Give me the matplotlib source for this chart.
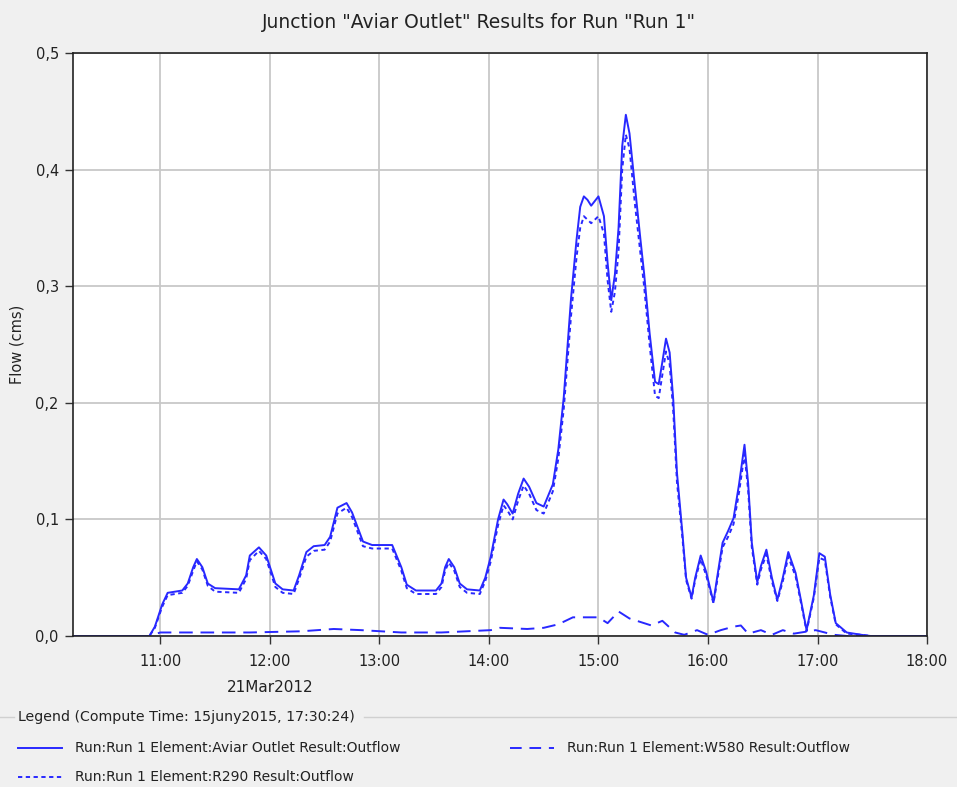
import matplotlib
matplotlib.use("Agg")
import matplotlib.pyplot as plt
import matplotlib.dates as mdates
from matplotlib.lines import Line2D
from matplotlib.ticker import FuncFormatter
import pandas as pd

DAY = "2012-03-21 "

# time steps shared by the Aviar Outlet and R290 series
flow_times = ["10:12", "10:54", "10:57", "11:01", "11:04", "11:08", "11:12", "11:15", "11:18", "11:20",
              "11:23", "11:26", "11:30", "11:43", "11:47", "11:49", "11:54", "11:58", "12:03", "12:07",
              "12:13", "12:16", "12:20", "12:24", "12:30", "12:33", "12:37", "12:42", "12:45", "12:51",
              "12:56", "13:07", "13:12", "13:15", "13:20", "13:31", "13:34", "13:36", "13:38", "13:41",
              "13:44", "13:48", "13:55", "13:58", "14:01", "14:05", "14:08", "14:10", "14:13", "14:16",
              "14:19", "14:22", "14:26", "14:30", "14:35", "14:38", "14:41", "14:45", "14:48", "14:50",
              "14:52", "14:54", "14:56", "14:58", "15:00", "15:03", "15:05", "15:07", "15:09", "15:11",
              "15:13", "15:15", "15:17", "15:20", "15:23", "15:25", "15:28", "15:31", "15:33", "15:35",
              "15:37", "15:39", "15:41", "15:43", "15:46", "15:48", "15:51", "15:53", "15:56", "15:59",
              "16:03", "16:05", "16:08", "16:11", "16:14", "16:17", "16:20", "16:22", "16:24", "16:27",
              "16:29", "16:32", "16:35", "16:38", "16:41", "16:44", "16:48", "16:51", "16:54", "16:58",
              "17:01", "17:04", "17:07", "17:10", "17:16", "17:24", "17:29", "18:00"]

# Run:Run 1 Element:Aviar Outlet Result:Outflow
aviar_flow = [0.0, 0.0, 0.008, 0.027, 0.037, 0.038, 0.039, 0.045, 0.059, 0.066,
              0.059, 0.045, 0.041, 0.040, 0.052, 0.069, 0.076, 0.069, 0.045, 0.040,
              0.039, 0.052, 0.072, 0.077, 0.078, 0.085, 0.110, 0.114, 0.106, 0.081,
              0.078, 0.078, 0.059, 0.044, 0.039, 0.039, 0.045, 0.059, 0.066, 0.059,
              0.045, 0.040, 0.039, 0.050, 0.068, 0.100, 0.117, 0.113, 0.105, 0.122,
              0.135, 0.128, 0.114, 0.111, 0.130, 0.160, 0.205, 0.290, 0.340, 0.368,
              0.377, 0.374, 0.369, 0.373, 0.377, 0.360, 0.320, 0.288, 0.310, 0.350,
              0.420, 0.447, 0.431, 0.385, 0.340, 0.311, 0.260, 0.218, 0.216, 0.235,
              0.255, 0.243, 0.202, 0.140, 0.088, 0.050, 0.033, 0.050, 0.069, 0.055,
              0.029, 0.050, 0.080, 0.090, 0.101, 0.130, 0.164, 0.131, 0.080, 0.046,
              0.060, 0.074, 0.050, 0.031, 0.050, 0.072, 0.054, 0.030, 0.005, 0.035,
              0.071, 0.068, 0.035, 0.011, 0.003, 0.001, 0.0, 0.0]

# Run:Run 1 Element:R290 Result:Outflow
r290_flow = [0.0, 0.0, 0.007, 0.025, 0.035, 0.036, 0.037, 0.043, 0.056, 0.064,
             0.057, 0.043, 0.038, 0.037, 0.049, 0.065, 0.073, 0.066, 0.042, 0.037,
             0.036, 0.049, 0.068, 0.073, 0.074, 0.081, 0.105, 0.110, 0.102, 0.077,
             0.075, 0.075, 0.056, 0.041, 0.036, 0.036, 0.042, 0.056, 0.063, 0.056,
             0.042, 0.037, 0.036, 0.047, 0.064, 0.095, 0.112, 0.108, 0.100, 0.116,
             0.129, 0.122, 0.108, 0.105, 0.124, 0.152, 0.195, 0.275, 0.325, 0.350,
             0.360, 0.357, 0.354, 0.357, 0.360, 0.345, 0.305, 0.278, 0.295, 0.330,
             0.400, 0.430, 0.418, 0.370, 0.328, 0.300, 0.250, 0.206, 0.204, 0.224,
             0.244, 0.233, 0.192, 0.132, 0.084, 0.048, 0.032, 0.048, 0.066, 0.052,
             0.028, 0.047, 0.076, 0.085, 0.096, 0.123, 0.156, 0.125, 0.076, 0.044,
             0.057, 0.070, 0.047, 0.030, 0.047, 0.068, 0.051, 0.028, 0.004, 0.033,
             0.067, 0.065, 0.033, 0.010, 0.002, 0.001, 0.0, 0.0]

# Run:Run 1 Element:W580 Result:Outflow
w580_times = ["10:12", "10:54", "11:00", "11:22", "11:49", "12:17", "12:35", "12:50", "13:12", "13:34",
              "14:01", "14:06", "14:21", "14:30", "14:38", "14:46", "14:57", "15:00", "15:05", "15:11",
              "15:17", "15:29", "15:35", "15:42", "15:47", "15:54", "16:00", "16:07", "16:14", "16:18",
              "16:22", "16:29", "16:35", "16:41", "16:47", "16:55", "16:59", "17:09", "17:16", "18:00"]
w580_flow = [0.0, 0.0, 0.003, 0.003, 0.003, 0.004, 0.006, 0.005, 0.003, 0.003,
             0.005, 0.007, 0.006, 0.007, 0.010, 0.016, 0.016, 0.016, 0.011, 0.021,
             0.015, 0.009, 0.013, 0.003, 0.001, 0.005, 0.001, 0.005, 0.008, 0.009,
             0.002, 0.005, 0.001, 0.005, 0.002, 0.004, 0.005, 0.001, 0.0, 0.0]

t_flow = pd.to_datetime([DAY + t for t in flow_times])
t_w580 = pd.to_datetime([DAY + t for t in w580_times])

BLUE = "#2828ff"
BG = "#f0f0f0"
TXT = "#222222"

fig = plt.figure(figsize=(9.57, 7.87), dpi=100, facecolor=BG)
ax = fig.add_axes([0.076, 0.1919, 0.8927, 0.7408])
ax.set_facecolor("white")

ax.plot(t_flow, aviar_flow, color=BLUE, lw=1.4, solid_joinstyle="round")
ax.plot(t_w580, w580_flow, color=BLUE, lw=1.4, dashes=(7, 4))
ax.plot(t_flow, r290_flow, color=BLUE, lw=1.4, dashes=(2.2, 1.8))

ax.set_xlim(pd.Timestamp(DAY + "10:12"), pd.Timestamp(DAY + "18:00"))
ax.set_ylim(0, 0.5)
ax.xaxis.set_major_locator(mdates.HourLocator(byhour=range(11, 19)))
ax.xaxis.set_major_formatter(mdates.DateFormatter("%H:%M"))
ax.set_yticks([0, 0.1, 0.2, 0.3, 0.4, 0.5])
ax.yaxis.set_major_formatter(FuncFormatter(lambda v, p: f"{v:.1f}".replace(".", ",")))
ax.grid(True, color="#c8c8c8", lw=1.3)
ax.set_axisbelow(True)
for s in ax.spines.values():
    s.set_color(TXT)
    s.set_linewidth(1.2)
ax.tick_params(axis="both", direction="out", length=6, width=1, colors="#333333",
               labelsize=10.5, labelcolor=TXT, pad=4)
ax.tick_params(axis="x", pad=7)
ax.set_ylabel("Flow (cms)", fontsize=10.5, color=TXT, labelpad=8)

fig.text(0.5, 0.972, 'Junction "Aviar Outlet" Results for Run "Run 1"',
         ha="center", va="center", fontsize=13.5, color=TXT)
fig.text(270 / 957, 1 - 688 / 787, "21Mar2012", ha="center", va="center",
         fontsize=11, color=TXT)

# legend block
fig.text(18 / 957, 1 - 717 / 787, "Legend (Compute Time: 15juny2015, 17:30:24)",
         ha="left", va="center", fontsize=10.2, color=TXT)
fig.add_artist(Line2D([0, 14 / 957], [1 - 717 / 787] * 2, color="#d0d0d0", lw=1))
fig.add_artist(Line2D([364 / 957, 1], [1 - 717 / 787] * 2, color="#d0d0d0", lw=1))

entries = [
    (18, 748, "Run:Run 1 Element:Aviar Outlet Result:Outflow", None),
    (510, 748, "Run:Run 1 Element:W580 Result:Outflow", (6, 4)),
    (18, 777, "Run:Run 1 Element:R290 Result:Outflow", (2.2, 1.8)),
]
for x0, y0, label, dash in entries:
    yy = 1 - y0 / 787
    ln = Line2D([x0 / 957, (x0 + 44) / 957], [yy, yy], color=BLUE, lw=1.4)
    if dash:
        ln.set_dashes(dash)
    fig.add_artist(ln)
    fig.text((x0 + 57) / 957, yy, label, ha="left", va="center", fontsize=10, color=TXT)

fig.savefig("out.png", dpi=100, facecolor=BG)
